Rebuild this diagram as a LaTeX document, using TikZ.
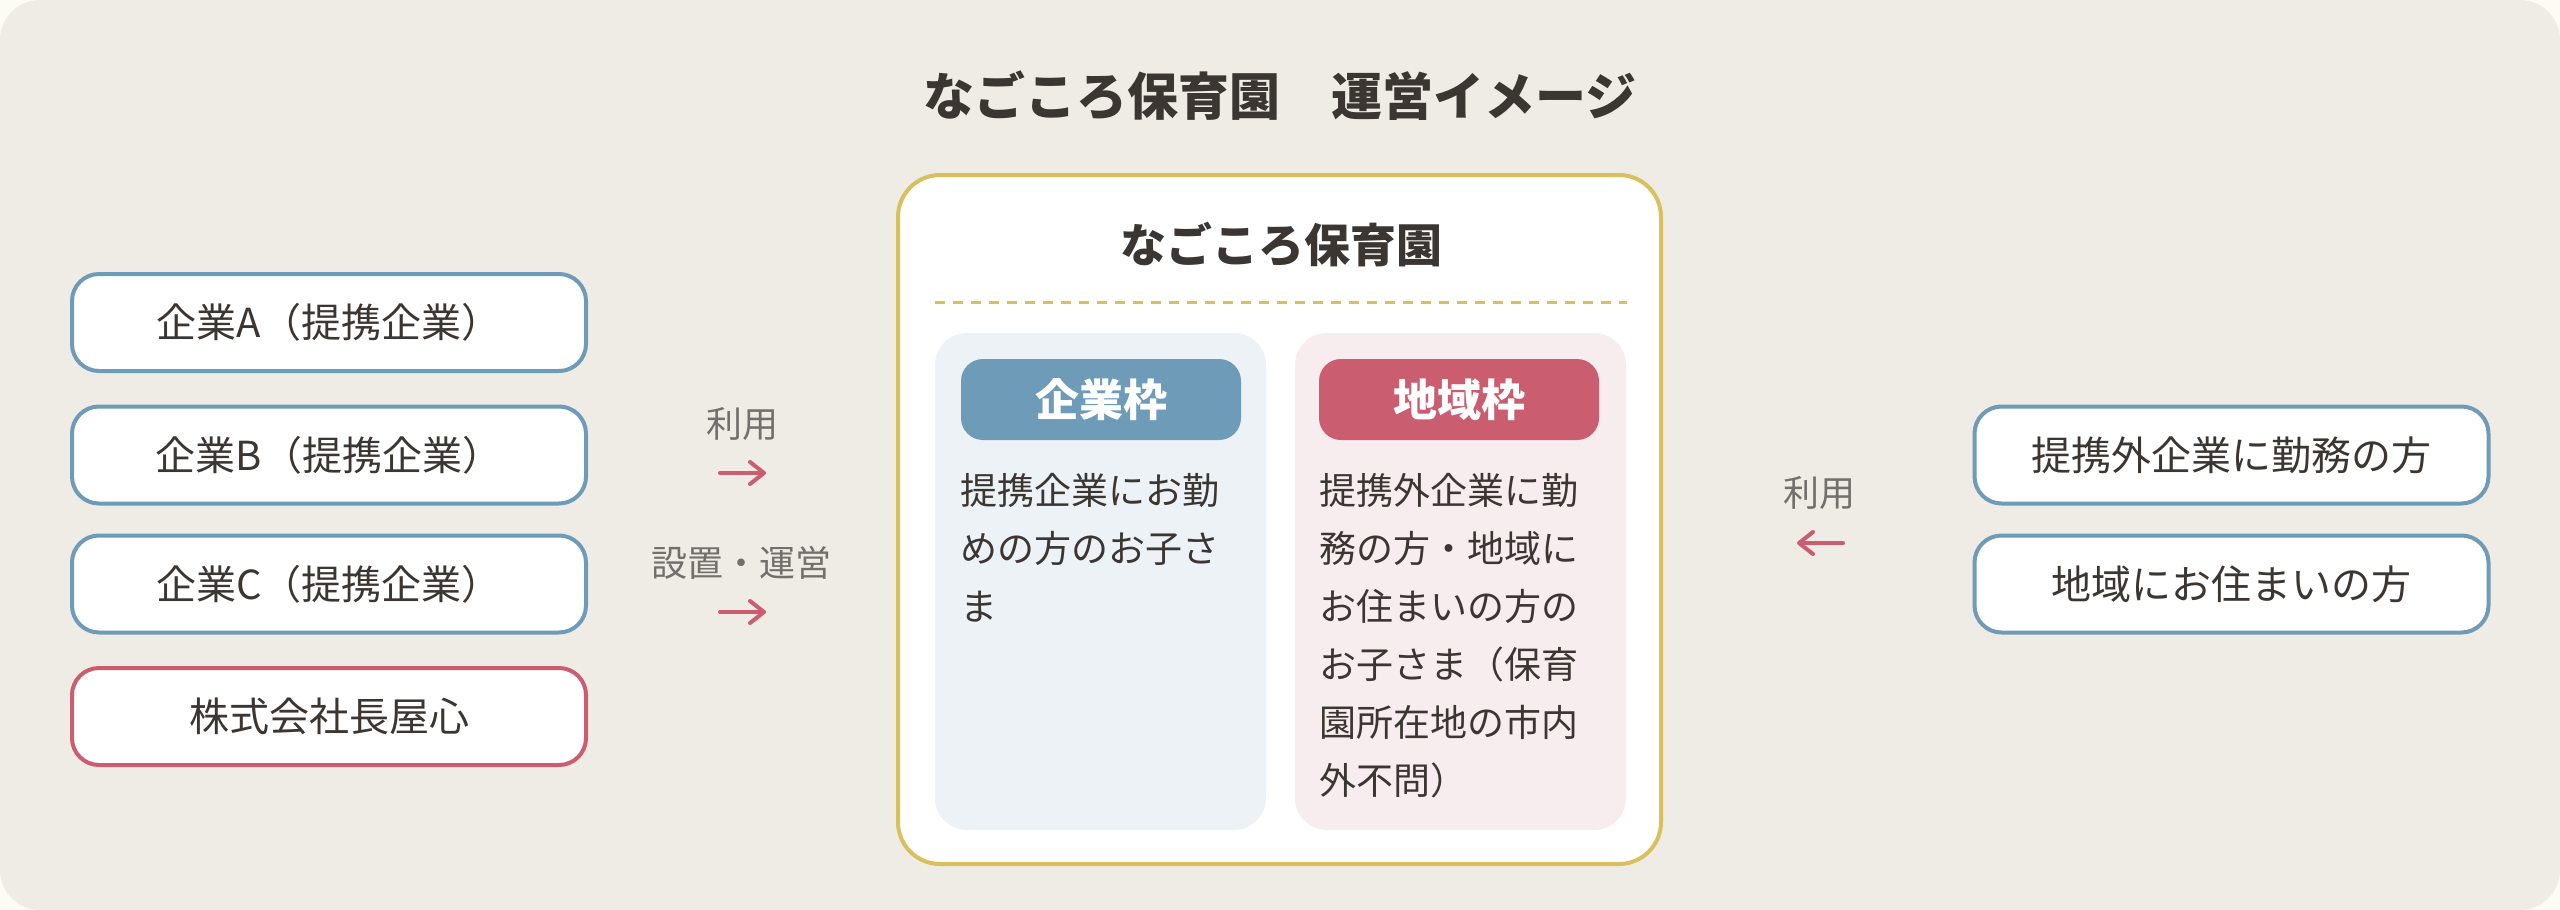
\documentclass[tikz,border=0pt]{standalone}
\usepackage{fontspec}
\setmainfont{Noto Sans CJK JP}
\usetikzlibrary{arrows.meta}
\definecolor{outerc}{HTML}{FCFBF4}
\definecolor{bgc}{HTML}{EFECE5}
\definecolor{bluec}{HTML}{6E9BB8}
\definecolor{redc}{HTML}{CA5D6F}
\definecolor{goldc}{HTML}{D9BF5E}
\definecolor{inkc}{HTML}{3B3632}
\definecolor{grayc}{HTML}{72706C}
\definecolor{panelblue}{HTML}{EDF2F6}
\definecolor{panelpink}{HTML}{F7EDEE}
\begin{document}
\begin{tikzpicture}[x=0.5pt,y=-0.5pt,
  sidebox/.style={draw, line width=2pt, fill=white, rounded corners=13.5pt,
    minimum width=257pt, minimum height=48.5pt, inner sep=0pt,
    font=\fontsize{20pt}{24pt}\selectfont, text=inkc},
  bluebox/.style={sidebox, draw=bluec},
  redbox/.style={sidebox, draw=redc},
  panel/.style={rounded corners=16pt, minimum width=165.5pt, minimum height=248.5pt, inner sep=0pt},
  pill/.style={rounded corners=11pt, minimum width=140pt, minimum height=40.5pt, inner sep=0pt,
    text=white, font=\fontsize{22pt}{26pt}\selectfont\bfseries},
  ptext/.style={anchor=base west, inner sep=0pt, font=\fontsize{18.5pt}{29pt}\selectfont, text=inkc},
  glabel/.style={inner sep=0pt, font=\fontsize{18pt}{22pt}\selectfont, text=grayc},
  sym/.style={redc, line width=2pt, line cap=round,
    -{Straight Barb[length=7pt,width=11pt,line width=2pt,round]}}
]
\useasboundingbox (0,0) rectangle (2560,910);
\fill[outerc] (0,0) rectangle (2560,910);
\fill[bgc, rounded corners=20pt] (0,0) rectangle (2560,910);

% main title
\node[anchor=base, inner sep=0pt, text=inkc, font=\fontsize{25.5pt}{30pt}\selectfont\bfseries]
  (title) at (1280,115) {なごころ保育園　運営イメージ};

% left boxes
\node[bluebox] (ca) at (329,322.5) {企業A（提携企業）};
\node[bluebox] (cb) at (329,455) {企業B（提携企業）};
\node[bluebox] (cc) at (329,584) {企業C（提携企業）};
\node[redbox]  (cd) at (329,716.5) {株式会社長屋心};

% right boxes
\node[bluebox] (ra) at (2231.5,455) {提携外企業に勤務の方};
\node[bluebox] (rb) at (2231.5,584) {地域にお住まいの方};

% middle left labels and arrows
\node[glabel] (lu) at (742,424) {利用};
\coordinate (a1s) at (720,473);
\coordinate (a1e) at (766,473);
\draw[sym] (a1s) -- (a1e);
\node[glabel] (ls) at (741,563) {設置・運営};
\coordinate (a2s) at (720,612);
\coordinate (a2e) at (766,612);
\draw[sym] (a2s) -- (a2e);

% right label and arrow
\node[glabel] (ru) at (1819,493) {利用};
\coordinate (a3s) at (1843,543);
\coordinate (a3e) at (1797,543);
\draw[sym] (a3s) -- (a3e);

% center box
\node[draw=goldc, line width=2pt, fill=white, rounded corners=21pt,
  minimum width=381.5pt, minimum height=344.5pt, inner sep=0pt] (center) at (1279.5,519.5) {};
\node[anchor=base, inner sep=0pt, text=inkc, font=\fontsize{23pt}{28pt}\selectfont\bfseries]
  (ctitle) at (1281,262) {なごころ保育園};
\coordinate (dl) at (935,302);
\coordinate (dr) at (1627,302);
\draw[goldc, line width=1.5pt, dash pattern=on 5pt off 4pt] (dl) -- (dr);

% panels
\node[panel, fill=panelblue] (pleft) at (1100.5,581.5) {};
\node[panel, fill=panelpink] (pright) at (1460.5,581.5) {};
\node[pill, fill=bluec] (kleft) at (1101,399.5) {企業枠};
\node[pill, fill=redc] (kright) at (1459,399.5) {地域枠};

\node[ptext] (pl1) at (960,504) {提携企業にお勤};
\node[ptext] (pl2) at (960,562) {めの方のお子さ};
\node[ptext] (pl3) at (960,620) {ま};

\node[ptext] (pr1) at (1319,504) {提携外企業に勤};
\node[ptext] (pr2) at (1319,562) {務の方・地域に};
\node[ptext] (pr3) at (1319,620) {お住まいの方の};
\node[ptext] (pr4) at (1319,678) {お子さま（保育};
\node[ptext] (pr5) at (1319,736) {園所在地の市内};
\node[ptext] (pr6) at (1319,794) {外不問）};
\end{tikzpicture}
\end{document}
